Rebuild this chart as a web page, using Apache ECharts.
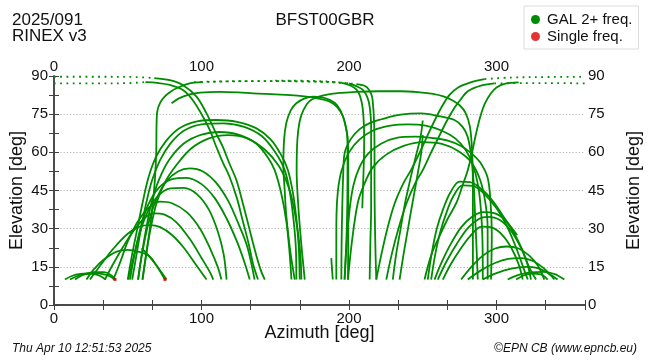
<!DOCTYPE html>
<html><head><meta charset="utf-8">
<script src="https://cdn.jsdelivr.net/npm/echarts@6/dist/echarts.min.js"></script>
<style>html,body{margin:0;padding:0;background:#fff}#c{width:650px;height:360px}</style>
</head><body><div id="c"></div>
<script>
// ---- axis / tick values ----
const azLabelTicks = [0, 100, 200, 300];
const elLabelTicks = [0, 15, 30, 45, 60, 75, 90];
const gridElevations = [15, 30, 45, 60, 75];

// ---- satellite tracks [azimuth, elevation] ----
const lowA = [[7.4,10],[12,11.4],[18,12.2],[26.6,12.5],[35.6,11.8],[41.3,10]];
const lowB = [[10.8,10],[15,11.2],[20,12],[26,12.2],[31,11.5],[35,10]];
const lowC = [[14.2,10],[20,11.9],[27,12.9],[34,12.9],[39,11.6],[42,10]];
const arcL22 = [[22,10],[27,14],[33.4,17.7],[42.4,21],[50,21.7],[57,21],[65,19],[70,15],[75.2,10]];
const segL = [[59.4,22.3],[64,19.5],[69.5,15.5],[76.3,10]];
const arcL31 = [[24.4,10],[32,16],[40,22],[50,28],[58,30.8],[65,31.4],[72,30.6],[80,27.5],[88,22.5],[96,16],[103.4,10]];
const arcL36 = [[34.5,10],[40,16],[47,23],[55,30],[62,34.5],[68,36],[75,35.5],[83,32.5],[92,26],[100,18.5],[105.6,13],[108,10]];
const arcL40 = [[40.2,10],[45,17],[50,25],[56,32],[63,37.5],[71.8,40.6],[80,40],[90,36.5],[99,30],[106,22],[111,15],[113.5,10]];
const arcL46 = [[50.3,10],[54,19],[58,28],[63,36],[70,42.5],[79,45.8],[88,46],[97,43.5],[105,37.5],[111,29],[115,20],[117,10]];
const arcL50 = [[51.5,10],[55,21],[59,31],[64,39.5],[71,46],[80,49.5],[90,50],[100,47.5],[109,42],[117,34],[124,25],[129,17],[132.7,10]];
const arcL54 = [[57,10],[60,21],[64,32],[69,41],[76,48.5],[84,52.5],[92,53.7],[101,52.5],[110,48],[118,41],[125,32],[131,23],[136,10]];
const bigA = [[50,10],[53,20],[56.5,30],[60,40],[64,50],[69,58],[76,64.5],[85,69.5],[97,72.2],[110,72.7],[124,72],[137,69.5],[147,65],[154,59],[158.6,53],[162,44],[164.5,33],[166,22],[166.6,10]];
const bigB = [[53,10],[56,20],[59,30],[62.5,40],[66.5,49],[72,57],[79,63.5],[88,68.5],[100,71],[115,71.4],[129,70],[141,66.3],[150,60],[156.4,53],[160,44],[162.5,33],[164,22],[164.3,10]];
const bigC = [[57,10],[59.5,20],[62.5,30],[66,40],[71,49],[78,57],[88,63.5],[100,67],[112,68],[125,67],[137,63.5],[145,58],[149.6,53],[154,44],[157.5,33],[159.5,22],[161,10]];
const bigD = [[60,10],[62.5,20],[65.5,30],[69.5,40],[75,48],[83,55],[93,61.5],[105,65.5],[118,66.8],[131,65.5],[143,61],[152,55],[158,48],[162,40],[165,30],[167,20],[167.7,10]];
const cTop1 = [[163.2,10],[160,22],[157.5,35],[156.4,45],[155.5,55],[156,65],[157.5,71.5],[160.5,76.5],[164.3,79.3],[170,81.2],[175.5,81.9],[181,81.7],[186.9,80.6],[192,78.5],[196,74],[198.5,68],[199.3,63.6],[199.5,50],[199.5,30],[199.3,10]];
const cTop2 = [[170,10],[167.5,25],[165.5,40],[164.5,53],[165,65],[166.5,72],[169,76.5],[173,80],[179,81.8],[186,82.8],[195,83.4],[205,83.8],[220,84],[235,84],[248,83.6],[257,83],[264,82],[270,80.5],[275,78.5],[279,75.5],[282,70],[283.5,60],[284,45],[284,30],[284,10]];
const cTop3 = [[79.7,79.3],[85,81.3],[92,82.8],[99,83.5],[112,83.8],[125,83.6],[135,83.2],[150,82.8],[165,82.3],[175,81.6],[182,80.8],[187,79.9],[192,77.8],[196,74],[198.5,68],[199,63.6],[199,50],[198.5,30],[197,10]];
const riseW = [[60,10],[62.5,20],[65,30],[67,40],[68.5,50],[69.3,60],[69.5,70],[70,76],[72,79.5],[75,81.9],[79,83.8],[83,85.2],[92,87.1],[100,87.6]];
const zenDotA = [[100,87.6],[120,87.9],[150,88],[175,87.8],[190,87.6],[200,87.1]];
const fallA = [[200,87.1],[205,86],[209.4,84.5],[212.5,81.5],[214,78],[215,70],[215,60],[215,49],[215,38],[214.5,25],[214,10]];
const zenDotB = [[95,87.6],[130,88],[170,87.9],[195,87.3]];
const fallB = [[195,87.3],[202,86],[206,84],[208.5,80],[209.8,74],[210.3,65],[210,55],[209.4,45],[209,38]];
const zenDotC = [[150,88.2],[180,88],[205,86.8]];
const fallC = [[205,86.8],[211.7,85.8],[215,83],[216,80.6],[217,72],[217.3,60],[217.3,49],[217.5,35],[218,20],[218.5,10]];
const midA = [[194.8,10],[195,25],[195.5,40],[196,50],[197,59.6],[201,65],[207,69],[214,71.5],[222,73],[235,74.8],[249,75.3],[261,74.2],[271.5,72.7],[277,70],[280.5,66],[283,58],[284.5,48],[285.5,35],[286.5,22],[287.3,10]];
const midB = [[197,10],[198.5,25],[200.5,38],[203,47],[207,54],[213,59.5],[222,63.5],[233,65.8],[245,66.2],[257,65.6],[267,64.6],[276,62.5],[283,59.6],[289,56],[294,50],[296,40],[296.8,28],[296.3,10]];
const midC = [[199.3,10],[202,25],[205.9,40],[210,47],[216,54],[225,59],[237,62.5],[250,64],[263,63.3],[274,60.5],[283,56],[289,49],[292.5,40],[294,30],[294,20],[294,10]];
const midD = [[191.4,23.6],[191.5,35],[192.5,45],[195,53],[200,60],[207,65],[216,68.5],[228,70.5],[240,71],[252,70.5],[263,68.5],[272,65.5],[279,61],[284,55],[287.5,47],[289.5,37],[290.5,25],[290.7,10]];
const shortS1 = [[189,10],[188.5,14],[188,18.4]];
const shortS2 = [[191.4,10],[191.4,17],[191.4,23.6]];
const riseE1 = [[218.5,10],[222,20],[226,30],[231,40],[237,48],[242,53],[248,60],[253.5,67],[258.5,73],[263,78],[268,82.5],[274,85.5],[283,87.6],[292,88.8]];
const zenDotE1 = [[292,88.8],[310,89.4],[335,89.6],[360,89.7]];
const zenDotW1 = [[0,89.7],[30,89.7],[55,89.6],[68,89.2]];
const fallW1 = [[68,89.2],[78.5,88.4],[87.3,86.5],[96.6,81.9],[103.4,75.3],[109,68.5],[114.4,62.2],[119,55.5],[123.7,49],[128,40],[132,31],[136,22],[140,14],[142.9,10]];
const riseE2 = [[225.3,10],[229,20],[233.5,30],[239,40],[245,48],[250,53],[255.7,60],[261,66.2],[266,72],[271.5,77.5],[276,81],[280.5,84],[290,86.3],[298.6,87.1]];
const zenDotE2 = [[298.6,87.1],[320,87.2],[340,87.2],[360,87.1]];
const zenDotW2 = [[0,87.1],[30,87.1],[50,87.2],[62,87.6]];
const fallW2 = [[62,87.6],[70,87.3],[78.5,86.5],[87.4,84.5],[94,80.6],[101,74],[105.6,68.8],[110,62.2],[114.5,56],[119,50.4],[124,42],[128,33],[132,24],[135,16],[138.3,10]];
const riseE3 = [[251.2,10],[256,20],[261.3,27],[267,34],[272.7,40],[277,47],[280.5,53],[283.5,60],[286,67],[289,74],[292,79],[296,83],[300,85.5],[306,87],[315,87.5]];
const partP1 = [[229.7,10],[232,20],[235,30],[238,40],[241,48],[243,53],[246,60],[248.5,66],[250,72.5]];
const partP2 = [[234.3,10],[237,20],[240,30],[243,40],[245.5,48],[247,53],[249,60],[250,66.8]];
const arcR1 = [[253.4,10],[256,20],[259.5,30],[264,38],[269,44.5],[275,48.5],[282,48.3],[290,45.5],[298,40.5],[305,34.5],[310,30.5],[314,27.5]];
const arcR2 = [[255.7,10],[258.5,20],[262,29],[266.5,37],[271,43],[277,47],[284,46.8],[292,43.5],[300,38],[307,31],[313,23],[318,15],[321.2,10]];
const arcR3 = [[258,10],[263,17],[269,24],[276,30.5],[283,34.5],[291,36.5],[299,36],[307,32.5],[314,26],[320,18],[323.4,10]];
const arcR4 = [[260.2,10],[266,17],[273,24],[281,30.5],[288,33.8],[294,34.6],[302,33.5],[310,29],[317,22],[322,15],[326.8,10]];
const arcR5 = [[263.6,10],[269,16],[275,21.5],[282,27],[290,30.8],[297,30.4],[304,27.5],[310,22.5],[315,16],[317.8,10]];
const arcR6 = [[276,10],[283,15],[291,19.5],[299,22.2],[307,23],[315,22.2],[322,19.5],[328,15.5],[332.4,10]];
const arcR7 = [[280.5,10],[290,13.8],[299,16.5],[308,18.1],[316.6,18.4],[325,17.2],[332,14.5],[337,11.5],[339.2,10]];
const arcR8 = [[290.7,10],[300,12.5],[310,14.3],[320,15],[328,14.5],[335,12.5],[341.4,10]];
const arcR9 = [[307.6,10],[315,11.8],[323,12.8],[332,13],[340,12],[346,10]];
const arcR10 = [[313.3,10],[318,11.5],[324,12.3],[330,12],[334.7,10]];
const singleFreq = [[41.3,10],[75.2,10]];

const solidTracks = [lowA, lowB, lowC, arcL22, segL, arcL31, arcL36, arcL40, arcL46, arcL50, arcL54,
  bigA, bigB, bigC, bigD, cTop1, cTop2, cTop3, riseW, fallA, fallB, fallC, midA, midB, midC, midD,
  shortS1, shortS2, riseE1, fallW1, riseE2, fallW2, riseE3, partP1, partP2,
  arcR1, arcR2, arcR3, arcR4, arcR5, arcR6, arcR7, arcR8, arcR9, arcR10];
const dottedTracks = [zenDotA, zenDotB, zenDotC, zenDotE1, zenDotW1, zenDotE2, zenDotW2];

const GREEN = '#008c00';
const RED = '#e00000';
const FONT = 'Liberation Sans';
const AX = '#404040';

const series = [];
solidTracks.forEach(d => series.push({
  type: 'line', name: 'GAL 2+ freq.', data: d, smooth: 0.35, showSymbol: false, symbol: 'none',
  lineStyle: { color: GREEN, width: 1.8 }, itemStyle: { color: GREEN }, silent: true, z: 3
}));
dottedTracks.forEach(d => series.push({
  type: 'line', name: 'GAL 2+ freq.', data: d, smooth: 0.35, showSymbol: false, symbol: 'none',
  lineStyle: { color: GREEN, width: 1.8, type: [1.8, 4.5] }, itemStyle: { color: GREEN }, silent: true, z: 3
}));
series.push({
  type: 'scatter', name: 'Single freq.', data: singleFreq, symbol: 'rect', symbolSize: 3,
  itemStyle: { color: RED }, silent: true, z: 4
});

const isMult = (v, m) => Math.abs(v / m - Math.round(v / m)) < 1e-6;
const xFmt = v => (isMult(v, 100) && azLabelTicks.includes(Math.round(v))) ? String(Math.round(v)) : '';
const yFmt = v => (isMult(v, 15) && elLabelTicks.includes(Math.round(v))) ? String(Math.round(v)) : '';

const xBase = (pos, margin) => ({
  type: 'value', position: pos, min: 0, max: 360, interval: 100 / 3,
  axisLine: { show: true, lineStyle: { color: AX, width: 1.5 } },
  axisTick: { show: true, inside: true, length: 5, lineStyle: { color: AX, width: 1 } },
  axisLabel: { formatter: xFmt, fontFamily: FONT, fontSize: 15, color: '#111', margin: margin, showMaxLabel: true },
  splitLine: { show: false }
});
const yBase = (pos, margin) => ({
  type: 'value', position: pos, min: 0, max: 90, interval: 7.5,
  axisLine: { show: true, lineStyle: { color: AX, width: 1.5 } },
  axisTick: { show: true, inside: true, length: 5, lineStyle: { color: AX, width: 1 } },
  axisLabel: { formatter: yFmt, fontFamily: FONT, fontSize: 15, color: '#111', margin: margin },
  splitLine: { show: false },
  name: 'Elevation [deg]', nameLocation: 'middle', nameRotate: 90, nameMoveOverlap: false,
  nameTextStyle: { fontFamily: FONT, fontSize: 18, color: '#111' }
});

const xBottom = xBase('bottom', 6);
xBottom.name = 'Azimuth [deg]';
xBottom.nameLocation = 'middle';
xBottom.nameGap = 19;
xBottom.nameMoveOverlap = false;
xBottom.nameTextStyle = { fontFamily: FONT, fontSize: 18, color: '#111' };
const xTop = xBase('top', 2);
const yLeft = yBase('left', 6); yLeft.nameGap = 28;
const yRight = yBase('right', 3); yRight.nameGap = 40;
const yGrid = {
  type: 'value', position: 'left', min: 0, max: 90, interval: 15,
  axisLine: { show: false }, axisTick: { show: false }, axisLabel: { show: false },
  splitLine: { show: true, showMinLine: false, showMaxLine: false, lineStyle: { color: '#b4b4b4', width: 1, type: [1.2, 2] } }
};
series.forEach(s => { s.xAxisIndex = 0; s.yAxisIndex = 0; });

const chart = echarts.init(document.getElementById('c'), null, { renderer: 'canvas' });
chart.setOption({
  animation: false,
  backgroundColor: '#ffffff',
  grid: { left: 54, right: 65, top: 76, bottom: 55, containLabel: false, outerBoundsMode: 'none' },
  xAxis: [xBottom, xTop],
  yAxis: [yLeft, yRight, yGrid],
  legend: {
    data: [{ name: 'GAL 2+ freq.', icon: 'circle' }, { name: 'Single freq.', icon: 'circle' }],
    orient: 'vertical', left: 524, top: 6, itemWidth: 9, itemHeight: 9, itemGap: 2,
    padding: [6, 6, 5, 7], borderColor: '#dddddd', borderWidth: 1, selectedMode: false,
    textStyle: { fontFamily: FONT, fontSize: 15, color: '#111', padding: [0, 0, 0, 2] }
  },
  graphic: [
    { type: 'text', left: 12, top: 12, style: { text: '2025/091\nRINEX v3', font: '17px "Liberation Sans"', lineHeight: 16, fill: '#111' } },
    { type: 'text', left: 'center', top: 12, style: { text: 'BFST00GBR', font: '17px "Liberation Sans"', fill: '#111' } },
    { type: 'text', left: 12, top: 343, style: { text: 'Thu Apr 10 12:51:53 2025', font: 'italic 12px "Liberation Sans"', fill: '#111' } },
    { type: 'text', right: 13, top: 343, style: { text: '©EPN CB (www.epncb.eu)', font: 'italic 12px "Liberation Sans"', fill: '#111' } }
  ],
  series: series
});
</script>
</body></html>
